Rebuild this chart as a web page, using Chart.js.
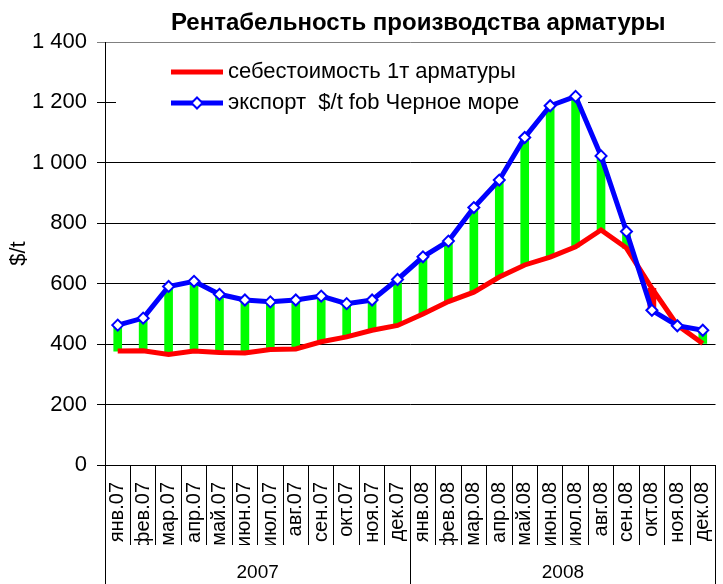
<!DOCTYPE html>
<html>
<head>
<meta charset="utf-8">
<script src="https://cdn.jsdelivr.net/npm/chart.js@4"></script>
<style>
  html, body { margin: 0; padding: 0; background: #fff; }
</style>
</head>
<body>
<canvas id="myChart" width="723" height="584"></canvas>
<script>
// данные
const months = ['янв.07','фев.07','мар.07','апр.07','май.07','июн.07','июл.07','авг.07','сен.07','окт.07','ноя.07','дек.07',
                'янв.08','фев.08','мар.08','апр.08','май.08','июн.08','июл.08','авг.08','сен.08','окт.08','ноя.08','дек.08'];
const years = ['2007', '2008'];
const cost = [377, 378, 366, 377, 372, 371, 382, 384, 408, 424, 446, 462,
              500, 541, 572, 622, 662, 688, 722, 778, 718, 585, 463, 402];
const exportFob = [463, 486, 591, 608, 565, 546, 540, 546, 559, 534, 546, 614,
                   689, 741, 852, 943, 1084, 1189, 1220, 1023, 773, 512, 461, 446];

const FONT = '"Liberation Sans", Arial, sans-serif';
Chart.defaults.font.family = FONT;
Chart.defaults.color = '#000';

// заголовок и легенда (белая подложка легенды под линиями)
const decor = {
  id: 'decor',
  beforeDatasetsDraw(chart) {
    const c = chart.ctx, a = chart.chartArea;
    c.save();
    c.fillStyle = '#fff';
    c.fillRect(a.left + 11, 46, 472, 72);
    const items = [chart.data.datasets[1], chart.data.datasets[2]];
    items.forEach((ds, i) => {
      const y = 72 + i * 31;
      c.strokeStyle = ds.borderColor;
      c.lineWidth = 5;
      c.beginPath(); c.moveTo(171, y); c.lineTo(223, y); c.stroke();
      if (ds.pointRadius) {
        c.fillStyle = '#fff'; c.lineWidth = 2;
        c.beginPath();
        c.moveTo(197, y - 5.5); c.lineTo(202.5, y); c.lineTo(197, y + 5.5); c.lineTo(191.5, y); c.closePath();
        c.fill(); c.stroke();
      }
      c.fillStyle = '#000';
      c.font = '22px ' + FONT;
      c.textBaseline = 'middle';
      c.textAlign = 'left';
      c.fillText(ds.label, 228, y);
    });
    c.restore();
  },
  afterDraw(chart) {
    const c = chart.ctx, a = chart.chartArea;
    c.save();
    c.fillStyle = '#000';
    c.font = 'bold 24px ' + FONT;
    c.textAlign = 'center';
    c.textBaseline = 'middle';
    c.fillText('Рентабельность производства арматуры', (a.left + a.right) / 2 + 8, 23);
    c.restore();
  }
};

const spread = months.map((m, i) => [cost[i], exportFob[i]]);
const spreadColors = months.map((m, i) => exportFob[i] >= cost[i] ? '#00FF00' : '#FF0000');

new Chart(document.getElementById('myChart').getContext('2d'), {
  type: 'bar',
  data: {
    labels: months,
    datasets: [
      {
        type: 'bar',
        label: 'spread',
        data: spread,
        backgroundColor: spreadColors,
        borderWidth: 0,
        barThickness: 8,
        xAxisID: 'x',
        order: 3
      },
      {
        type: 'line',
        label: 'себестоимость 1т арматуры',
        data: cost,
        borderColor: '#FF0000',
        borderWidth: 5,
        pointRadius: 0,
        tension: 0,
        xAxisID: 'x',
        order: 2
      },
      {
        type: 'line',
        label: 'экспорт  $/t fob Черное море',
        data: exportFob,
        borderColor: '#0000FF',
        borderWidth: 5,
        pointStyle: 'rectRot',
        pointRadius: 5.5,
        pointBorderWidth: 2,
        pointBackgroundColor: '#fff',
        pointBorderColor: '#0000FF',
        tension: 0,
        xAxisID: 'x',
        order: 1
      }
    ]
  },
  options: {
    responsive: false,
    animation: false,
    devicePixelRatio: 1,
    layout: { padding: { top: 42, left: 0, right: 0, bottom: 0 } },
    plugins: {
      legend: { display: false },
      title: { display: false },
      tooltip: { enabled: false }
    },
    scales: {
      y: {
        min: 0,
        max: 1400,
        afterFit(s) { s.width = 105; },
        ticks: {
          stepSize: 200,
          padding: 10,
          font: { size: 22 },
          callback(v) {
            return v >= 1000 ? Math.floor(v / 1000) + ' ' + String(v % 1000).padStart(3, '0') : String(v);
          }
        },
        grid: {
          color(ctx) { return ctx.tick && ctx.tick.value === 1400 ? '#808080' : '#000'; },
          lineWidth: 1,
          tickLength: 8
        },
        border: { color: '#000', width: 1 },
        title: { display: true, text: '$/t', font: { size: 22 }, padding: { top: 6, bottom: 0 } }
      },
      x: {
        type: 'category',
        position: 'bottom',
        weight: 0,
        offset: true,
        afterFit(s) { s.height = 80; },
        grid: { offset: true, drawOnChartArea: false, tickLength: 80, color: '#000' },
        border: { color: '#000', width: 1 },
        ticks: { autoSkip: false, minRotation: 90, maxRotation: 90, padding: -63, font: { size: 20 } }
      },
      x2: {
        type: 'category',
        labels: years,
        position: 'bottom',
        weight: 1,
        offset: true,
        afterFit(s) { s.height = 39; },
        grid: { offset: true, drawOnChartArea: false, tickLength: 39, color: '#000' },
        border: { display: false },
        ticks: { maxRotation: 0, padding: -23, font: { size: 19 } }
      }
    }
  },
  plugins: [decor]
});
</script>
</body>
</html>
